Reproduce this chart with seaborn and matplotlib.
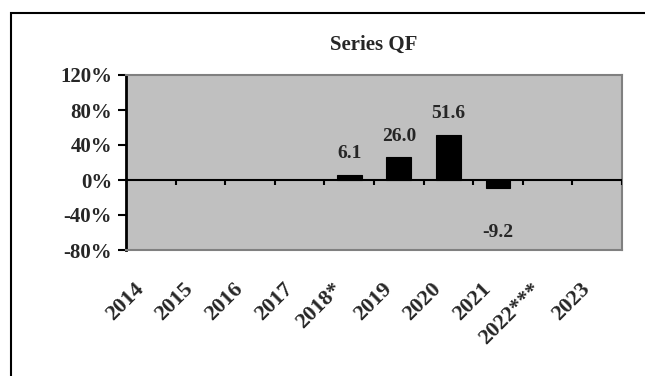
import numpy as np
import pandas as pd
import seaborn as sns
import matplotlib.pyplot as plt
import matplotlib.transforms as mtransforms
from matplotlib.patches import Rectangle

#   chart data
years = ['2014', '2015', '2016', '2017', '2018*', '2019', '2020', '2021', '2022***', '2023']
growth = [np.nan, np.nan, np.nan, np.nan, 6.1, 26.0, 51.6, -9.2, np.nan, np.nan]
y_ticks = [-80, -40, 0, 40, 80, 120]

sns.set_theme(style='white')
plt.rcParams['font.family'] = ['Liberation Serif', 'DejaVu Serif']
plt.rcParams['font.weight'] = 'bold'

df = pd.DataFrame({'year': years, 'growth': growth})

fig = plt.figure(figsize=(6.45, 3.76), dpi=100)
ax = fig.add_axes([126/645, 1 - 250/376, 496/645, 175/376])
ax.set_facecolor('#c0c0c0')

sns.barplot(data=df, x='year', y='growth', order=years, color='black',
            width=0.5, saturation=1, edgecolor='black', linewidth=0.8, ax=ax)

#   value labels
for i, v in enumerate(growth):
    if np.isnan(v):
        continue
    off = 9 if v >= 0 else -38
    ax.annotate(f'{v:.1f}', (i, v), xytext=(0, off), textcoords='offset points',
                ha='center', va='bottom', fontsize=14, fontweight='bold')

#   zero line with category ticks
ax.axhline(0, color='black', lw=1.5, zorder=3)
ax.vlines(np.arange(len(years)) + 0.5, -6, 0, color='black', lw=1.5, zorder=3)

ax.set_ylim(-80, 120)
ax.set_xlim(-0.5, len(years) - 0.5)
ax.set_yticks(y_ticks)
ax.set_yticklabels([f'{t}%' for t in y_ticks], fontsize=15, fontweight='bold')
ax.tick_params(axis='y', left=True, length=6, width=1.5, color='black', pad=4)
ax.tick_params(axis='x', bottom=False, pad=15)
shift = mtransforms.ScaledTranslation(-17/100, 0, fig.dpi_scale_trans)
for lab in ax.get_xticklabels():
    lab.set_rotation(45)
    lab.set_ha('right')
    lab.set_rotation_mode('anchor')
    lab.set_fontsize(16)
    lab.set_fontweight('bold')
    lab.set_transform(lab.get_transform() + shift)
ax.set_xlabel('')
ax.set_ylabel('')

for s in ['top', 'right', 'bottom']:
    ax.spines[s].set_color('#808080')
    ax.spines[s].set_linewidth(1.5)
ax.spines['left'].set_color('black')
ax.spines['left'].set_linewidth(2)

fig.text(374/645, 1 - 45/376, 'Series QF', ha='center', va='center',
         fontsize=15, fontweight='bold')

#   outer chart border
fig.patches.append(Rectangle((11/645, -0.1), 1.2, 1.1 - 13/376, transform=fig.transFigure,
                             fill=False, edgecolor='black', lw=1.5))

fig.savefig('out.png', dpi=100)
